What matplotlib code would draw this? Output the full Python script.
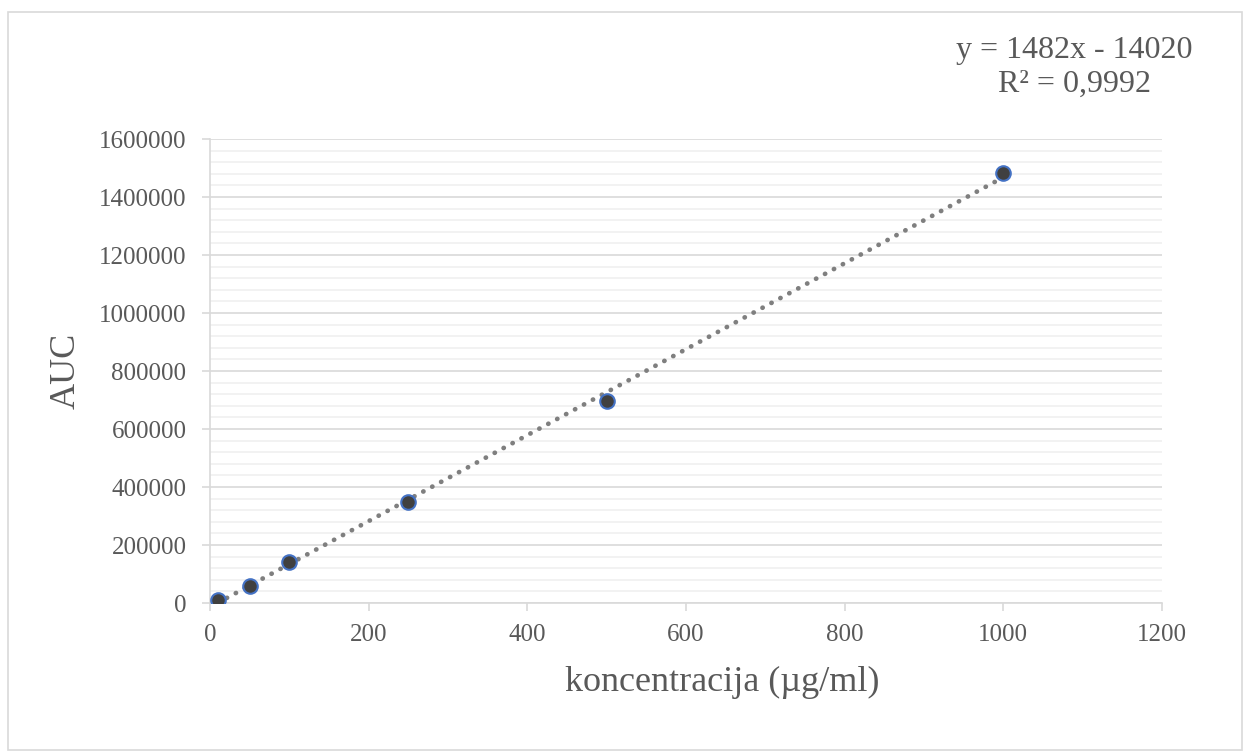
import numpy as np
import matplotlib
matplotlib.use('Agg')
import matplotlib.pyplot as plt
from matplotlib.patches import Rectangle
from matplotlib.ticker import MultipleLocator, StrMethodFormatter

plt.rcParams['font.family'] = ['Liberation Serif', 'DejaVu Serif']

konc = [10, 50, 100, 250, 500, 1000]
auc = [10000, 60000, 140000, 350000, 697000, 1483000]
slope, intercept = 1482, -14020
eq_lines = ['y = 1482x - 14020', 'R² = 0,9992']

fig = plt.figure(figsize=(12.5, 7.54), dpi=100)
fig.patches.append(Rectangle((8/1250, 4/754), 1234/1250, 738/754, transform=fig.transFigure,
                             fill=False, edgecolor='#d9d9d9', lw=1.2))
ax = fig.add_axes([210/1250, 1-603/754, 952/1250, 464/754])

# trendline (linear fit)
xs = np.array([min(konc), max(konc)])
ax.plot(xs, slope*xs + intercept, ls=(0, (0.05, 2.1)), lw=3.4, color='#7f7f7f',
        dash_capstyle='round', zorder=2)
ax.scatter(konc, auc, s=110, color='#404040', edgecolor='#4472c4', lw=1.5, zorder=3)

ax.set_xlim(0, 1200); ax.set_ylim(0, 1600000)
ax.xaxis.set_major_locator(MultipleLocator(200))
ax.yaxis.set_major_locator(MultipleLocator(200000))
ax.yaxis.set_minor_locator(MultipleLocator(40000))
ax.yaxis.set_major_formatter(StrMethodFormatter('{x:.0f}'))
ax.grid(True, which='major', axis='y', color='#d9d9d9', lw=1.2)
ax.grid(True, which='minor', axis='y', color='#f0f0f0', lw=1.2)
ax.set_axisbelow(True)
for s in ['top', 'right']: ax.spines[s].set_visible(False)
for s in ['left', 'bottom']:
    ax.spines[s].set_color('#d9d9d9'); ax.spines[s].set_linewidth(1.2)
ax.tick_params(which='major', length=6, width=1.2, color='#d9d9d9', labelsize=18,
               labelcolor='#595959')
ax.tick_params(axis='y', pad=11)
ax.tick_params(axis='x', pad=9)
ax.tick_params(which='minor', length=0)
ax.set_xlabel('koncentracija (µg/ml)', fontsize=26, color='#595959')
ax.xaxis.set_label_coords((722-210)/952, -0.136)
ax.set_ylabel('AUC', fontsize=26, color='#595959', labelpad=12)

for ypx, line in zip([58, 92], eq_lines):
    fig.text(1074/1250, 1-ypx/754, line, ha='center', va='baseline', fontsize=23,
             color='#595959')

fig.savefig('out.png', dpi=100)
